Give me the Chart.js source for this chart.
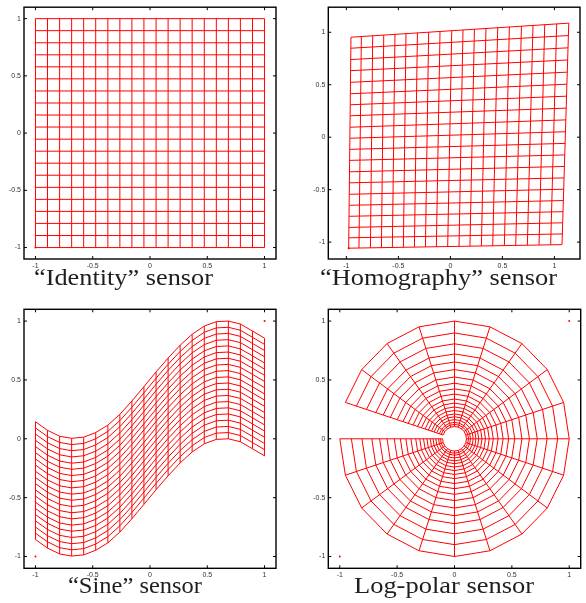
<!DOCTYPE html>
<html>
<head>
<meta charset="utf-8">
<script src="https://cdn.jsdelivr.net/npm/chart.js@4/dist/chart.umd.min.js"></script>
<style>
  html, body { margin: 0; padding: 0; background: #fff; }
  body { width: 586px; height: 603px; position: relative; overflow: hidden; }
  canvas { position: absolute; }
  .title { position: absolute; font-family: "Liberation Serif", "Times New Roman", serif; font-size: 23px; line-height: 23px; color: #1e1e1e; white-space: nowrap; transform-origin: 0 0; }
</style>
</head>
<body>
<canvas id="c1" width="290" height="290" style="left:0;top:0"></canvas>
<canvas id="c2" width="291" height="290" style="left:295px;top:0"></canvas>
<canvas id="c3" width="290" height="303" style="left:0;top:300px"></canvas>
<canvas id="c4" width="291" height="303" style="left:295px;top:300px"></canvas>
<div class="title" id="t1">“Identity” sensor</div>
<div class="title" id="t2">“Homography” sensor</div>
<div class="title" id="t3">“Sine” sensor</div>
<div class="title" id="t4">Log-polar sensor</div>
<script>
// ---------------- data ----------------
const tickValues = [-1, -0.5, 0, 0.5, 1];
const tickLabels = ['-1', '-0.5', '0', '0.5', '1'];

// "Identity" sensor: grid line positions (both directions)
const identityGrid = [-1,-0.895,-0.789,-0.684,-0.579,-0.474,-0.368,-0.263,-0.158,-0.053,0.053,0.158,0.263,0.368,0.474,0.579,0.684,0.789,0.895,1];

// "Homography" sensor: mesh boundary points
const homLeftX  = [-0.956,-0.957,-0.958,-0.959,-0.960,-0.961,-0.962,-0.963,-0.964,-0.965,-0.967,-0.968,-0.969,-0.970,-0.971,-0.972,-0.973,-0.975,-0.976,-0.978];
const homLeftY  = [0.953,0.848,0.740,0.634,0.523,0.414,0.309,0.204,0.095,-0.010,-0.116,-0.221,-0.330,-0.435,-0.544,-0.649,-0.754,-0.860,-0.959,-1.058];
const homRightX = [1.138,1.135,1.131,1.128,1.124,1.121,1.118,1.114,1.111,1.107,1.104,1.100,1.097,1.093,1.090,1.086,1.083,1.080,1.076,1.073];
const homRightY = [1.087,0.969,0.852,0.736,0.620,0.505,0.391,0.277,0.165,0.052,-0.059,-0.169,-0.279,-0.388,-0.496,-0.604,-0.710,-0.816,-0.922,-1.024];
const homTopX    = [-0.956,-0.856,-0.747,-0.641,-0.533,-0.427,-0.317,-0.209,-0.100,0.013,0.121,0.231,0.342,0.455,0.567,0.683,0.794,0.907,1.022,1.138];
const homTopY    = [0.953,0.960,0.967,0.974,0.981,0.988,0.995,1.002,1.009,1.016,1.023,1.030,1.038,1.045,1.052,1.059,1.066,1.073,1.080,1.087];
const homBottomX = [-0.978,-0.879,-0.769,-0.663,-0.558,-0.452,-0.346,-0.240,-0.135,-0.026,0.083,0.188,0.298,0.407,0.519,0.628,0.740,0.852,0.964,1.073];
const homBottomY = [-1.058,-1.056,-1.054,-1.053,-1.051,-1.049,-1.047,-1.046,-1.044,-1.042,-1.040,-1.038,-1.037,-1.035,-1.033,-1.031,-1.029,-1.028,-1.026,-1.024];

// "Sine" sensor: column positions, top curve, row offsets below the top curve
const sineX = [-1,-0.895,-0.789,-0.684,-0.579,-0.474,-0.368,-0.263,-0.158,-0.053,0.053,0.158,0.263,0.368,0.474,0.579,0.684,0.789,0.895,1];
const sineTop = [0.145,0.072,0.022,0.004,0.014,0.053,0.116,0.208,0.321,0.443,0.568,0.686,0.795,0.888,0.958,0.995,1.0,0.975,0.915,0.855];
const sineRowOffset = [0,-0.053,-0.105,-0.158,-0.211,-0.263,-0.316,-0.368,-0.421,-0.474,-0.526,-0.579,-0.632,-0.684,-0.737,-0.789,-0.842,-0.895,-0.947,-1];

// Log-polar sensor: spoke angles (deg) and ring radii
const logPolarAngles = [-180,-162,-144,-126,-108,-90,-72,-54,-36,-18,0,18,36,54,72,90,108,126,144,162];
const logPolarRadii = [1,0.899,0.807,0.721,0.653,0.588,0.525,0.472,0.424,0.380,0.338,0.303,0.270,0.240,0.211,0.187,0.163,0.139,0.122,0.104];

// small corner markers
const identityDots = [{x:-1, y:-1}];
const homographyDots = [{x:-0.978, y:-1.058}];
const sineDots = [{x:-1, y:-1}, {x:1, y:1}];
const logPolarDots = [{x:-1, y:-1}, {x:1, y:1}];

// ---------------- build line sets ----------------
function line(points) {
  return { data: points, showLine: true, borderColor: '#ff0000', borderWidth: 1, pointRadius: 0, fill: false, tension: 0 };
}
function dots(points) {
  return { data: points, showLine: false, pointRadius: 1, pointBorderWidth: 0, backgroundColor: '#ff0000', borderColor: '#ff0000' };
}

const n = identityGrid.length;
const identitySets = [];
identityGrid.forEach(v => identitySets.push(line([{x: identityGrid[0], y: v}, {x: identityGrid[n-1], y: v}])));
identityGrid.forEach(v => identitySets.push(line([{x: v, y: identityGrid[0]}, {x: v, y: identityGrid[n-1]}])));
identitySets.push(dots(identityDots));

const homSets = [];
homLeftX.forEach((lx, i) => homSets.push(line([{x: lx, y: homLeftY[i]}, {x: homRightX[i], y: homRightY[i]}])));
homTopX.forEach((tx, j) => homSets.push(line([{x: homBottomX[j], y: homBottomY[j]}, {x: tx, y: homTopY[j]}])));
homSets.push(dots(homographyDots));

const sineSets = [];
const lastOff = sineRowOffset[sineRowOffset.length - 1];
sineX.forEach((x, j) => sineSets.push(line([{x: x, y: sineTop[j] + lastOff}, {x: x, y: sineTop[j]}])));
sineRowOffset.forEach(off => sineSets.push(line(sineX.map((x, j) => ({x: x, y: sineTop[j] + off})))));
sineSets.push(dots(sineDots));

const lpSets = [];
const rad = a => a * Math.PI / 180;
const rMin = logPolarRadii[logPolarRadii.length - 1], rMax = logPolarRadii[0];
logPolarRadii.forEach(r => lpSets.push(line(logPolarAngles.map(a => ({x: r * Math.cos(rad(a)), y: r * Math.sin(rad(a))})))));
logPolarAngles.forEach(a => lpSets.push(line([
  {x: rMin * Math.cos(rad(a)), y: rMin * Math.sin(rad(a))},
  {x: rMax * Math.cos(rad(a)), y: rMax * Math.sin(rad(a))}])));
lpSets.push(dots(logPolarDots));

// ---------------- charts ----------------
const framePlugin = {
  id: 'frame',
  afterDraw(chart) {
    const ctx = chart.ctx, a = chart.chartArea, sx = chart.scales.x, sy = chart.scales.y;
    ctx.save();
    ctx.strokeStyle = '#000';
    ctx.lineWidth = 1.4;
    ctx.strokeRect(a.left, a.top, a.right - a.left, a.bottom - a.top);
    ctx.lineWidth = 1;
    ctx.beginPath();
    tickValues.forEach(v => {
      const px = sx.getPixelForValue(v), py = sy.getPixelForValue(v);
      ctx.moveTo(px, a.bottom); ctx.lineTo(px, a.bottom - 3);
      ctx.moveTo(px, a.top); ctx.lineTo(px, a.top + 3);
      ctx.moveTo(a.left, py); ctx.lineTo(a.left + 3, py);
      ctx.moveTo(a.right, py); ctx.lineTo(a.right - 3, py);
    });
    ctx.stroke();
    ctx.restore();
  }
};

const panels = [
  { id: 'c1', sets: identitySets, area: {l: 24, t: 1, r: 276, b: 259}, xr: [-1.1, 1.1], yr: [-1.1, 1.1] },
  { id: 'c2', sets: homSets, area: {l: 33.3, t: 1, r: 285, b: 259}, xr: [-1.174, 1.246], yr: [-1.161, 1.239] },
  { id: 'c3', sets: sineSets, area: {l: 24, t: 9.3, r: 276, b: 268.3}, xr: [-1.1, 1.1], yr: [-1.1, 1.1] },
  { id: 'c4', sets: lpSets, area: {l: 33.3, t: 9.3, r: 285.7, b: 268.3}, xr: [-1.1, 1.1], yr: [-1.1, 1.1] }
];

const tickFont = { family: 'Liberation Sans', size: 7 };
const xAxisH = 20;

panels.forEach(p => {
  const cv = document.getElementById(p.id);
  const W = cv.width, H = cv.height;
  const scaleCommon = {
    type: 'linear',
    grid: { display: false, drawTicks: false },
    border: { display: false },
    afterBuildTicks: s => { s.ticks = tickValues.map(v => ({ value: v })); },
    ticks: {
      font: tickFont, color: '#333', padding: 3, autoSkip: false, maxRotation: 0, minRotation: 0,
      callback: (val, idx) => tickLabels[idx]
    }
  };
  new Chart(cv, {
    type: 'scatter',
    data: { datasets: p.sets },
    options: {
      responsive: false,
      animation: false,
      devicePixelRatio: 1,
      events: [],
      layout: { padding: { left: 0, top: p.area.t, right: W - p.area.r, bottom: H - p.area.b - xAxisH } },
      plugins: { legend: { display: false }, tooltip: { enabled: false }, title: { display: false } },
      scales: {
        x: Object.assign({}, scaleCommon, { position: 'bottom', min: p.xr[0], max: p.xr[1],
          afterFit: s => { s.height = xAxisH; } }),
        y: Object.assign({}, scaleCommon, { position: 'left', min: p.yr[0], max: p.yr[1],
          afterFit: s => { s.width = p.area.l; } })
      }
    },
    plugins: [framePlugin]
  });
});

// ---------------- titles (layout) ----------------
const titleFontSize = 23;
const titleLayout = [
  { id: 't1', left: 34, baseline: 285, width: 179 },
  { id: 't2', left: 320, baseline: 285, width: 237 },
  { id: 't3', left: 68, baseline: 593, width: 134 },
  { id: 't4', left: 354, baseline: 593, width: 180 }
];
titleLayout.forEach(t => {
  const el = document.getElementById(t.id);
  el.style.left = t.left + 'px';
  el.style.top = (t.baseline - 0.8375 * titleFontSize) + 'px';
  const w = el.getBoundingClientRect().width;
  el.style.transform = 'scaleX(' + (t.width / w) + ')';
});
</script>
</body>
</html>
